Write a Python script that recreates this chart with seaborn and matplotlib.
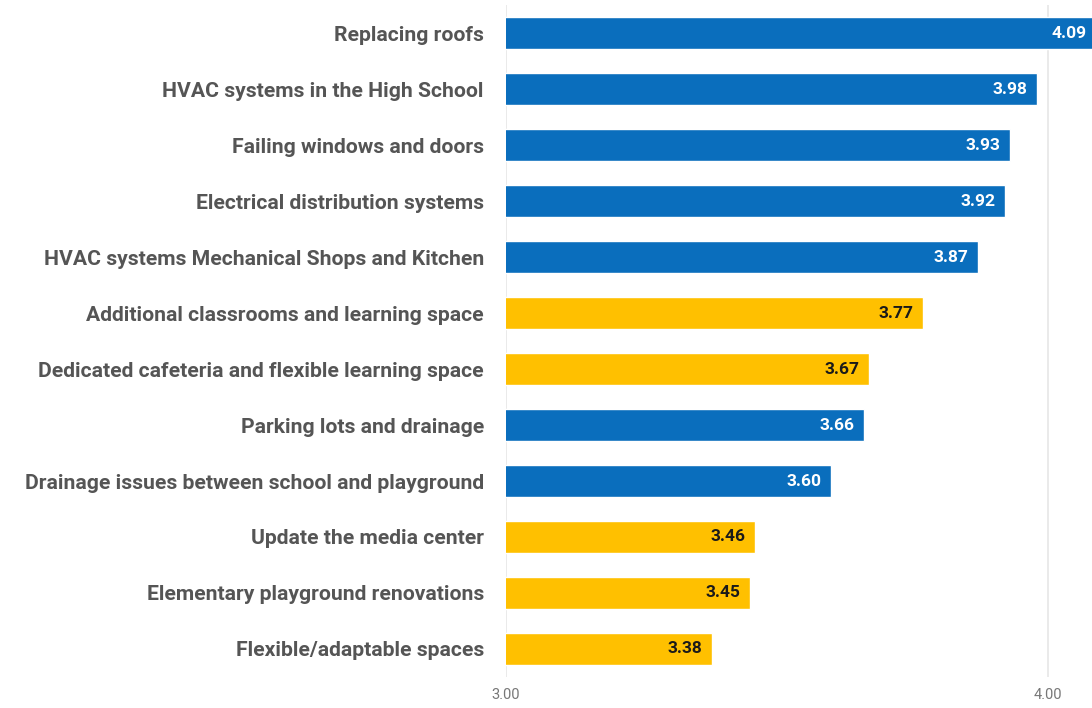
import matplotlib
matplotlib.use("Agg")
import matplotlib.pyplot as plt
import seaborn as sns
import pandas as pd

categories = [
    "Replacing roofs",
    "HVAC systems in the High School",
    "Failing windows and doors",
    "Electrical distribution systems",
    "HVAC systems Mechanical Shops and Kitchen",
    "Additional classrooms and learning space",
    "Dedicated cafeteria and flexible learning space",
    "Parking lots and drainage",
    "Drainage issues between school and playground",
    "Update the media center",
    "Elementary playground renovations",
    "Flexible/adaptable spaces",
]
scores = [4.09, 3.98, 3.93, 3.92, 3.87, 3.77, 3.67, 3.66, 3.60, 3.46, 3.45, 3.38]
groups = ["Repair", "Repair", "Repair", "Repair", "Repair", "Space", "Space",
          "Repair", "Repair", "Space", "Space", "Space"]
tick_values = [3.00, 4.00]
tick_labels = ["3.00", "4.00"]

palette = {"Repair": "#0A6EBD", "Space": "#FFC000"}
text_colors = {"Repair": "white", "Space": "#1a1a1a"}

df = pd.DataFrame({"item": categories, "score": scores, "group": groups})

sns.set_style("white")
plt.rcParams["font.family"] = ["Roboto", "DejaVu Sans"]

fig = plt.figure(figsize=(10.92, 7.08), dpi=100)
ax = fig.add_axes([0.4634, 0.0438, 0.5366, 0.9491])

sns.barplot(data=df, x="score", y="item", hue="group", palette=palette,
            order=categories, orient="h", dodge=False, legend=False,
            width=0.56, saturation=1, ax=ax, zorder=2)

ax.set_xlim(3.0, 4.081)
ax.set_ylim(11.5, -0.5)
ax.set_xticks(tick_values)
ax.set_xticklabels(tick_labels, color="#777777", fontsize=10.5)
ax.tick_params(axis="x", length=0, pad=8)
ax.tick_params(axis="y", length=0, pad=16)
for lab in ax.get_yticklabels():
    lab.set_fontweight("bold")
    lab.set_fontsize(15.2)
    lab.set_color("#555555")
ax.set_xlabel("")
ax.set_ylabel("")
ax.xaxis.grid(True, color="#e6e6e6", linewidth=1.2, zorder=0)
ax.set_axisbelow(True)
for s in ax.spines.values():
    s.set_visible(False)

for i, (v, g) in enumerate(zip(scores, groups)):
    ax.annotate(f"{v:.2f}", xy=(v, i), xytext=(-7, 0), textcoords="offset points",
                ha="right", va="center", fontsize=12.5, fontweight="bold",
                color=text_colors[g], annotation_clip=False, zorder=3)

fig.savefig("out.png", dpi=100)
